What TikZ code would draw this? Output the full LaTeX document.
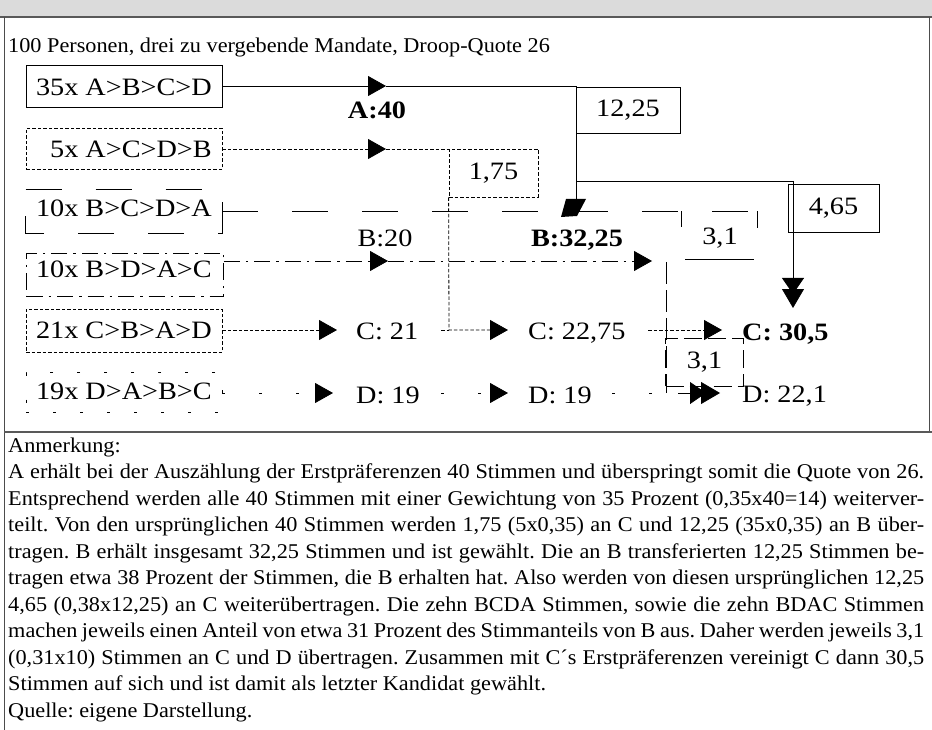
\documentclass[tikz,border=0pt]{standalone}
\usepackage{fontspec}
\setmainfont{Liberation Serif}
\newfontfamily\dfont[FakeStretch=1.13]{Liberation Serif}
\newfontfamily\nfont[FakeStretch=1.06]{Liberation Serif}
\usetikzlibrary{arrows.meta}
\begin{document}
\frenchspacing
\begin{tikzpicture}[x=1pt,y=-1pt,
  ln/.style={line width=0.8pt},
  sdash/.style={dash pattern=on 3.5pt off 2pt},
  ldash/.style={dash pattern=on 36pt off 34pt},
  ddash/.style={dash pattern=on 16pt off 6pt on 2.5pt off 6pt},
  dotl/.style={dash pattern=on 3pt off 34pt},
  dotb/.style={dash pattern=on 3pt off 24pt},
  mdash/.style={dash pattern=on 18pt off 6pt},
  pbox/.style={draw, line width=0.8pt, minimum width=196pt, inner sep=0pt},
  vbox/.style={draw, line width=0.8pt, inner sep=0pt, font=\dfont\fontsize{25}{30}\selectfont},
  ptxt/.style={font=\dfont\fontsize{25}{30}\selectfont, inner sep=0pt, anchor=base east},
  lbl/.style={font=\dfont\fontsize{25}{30}\selectfont, inner sep=0pt, anchor=base},
  lblw/.style={font=\dfont\fontsize{25}{30}\selectfont, inner sep=0pt, anchor=base west},
  arrowA/.style={-{Triangle[length=18pt,width=20pt]}},
  arrowD/.style={-{Triangle[length=16pt,width=22pt,sep=-5pt]Triangle[length=19pt,width=22pt]}},
  notetxt/.style={font=\nfont\fontsize{21}{26}\selectfont, inner sep=0pt, anchor=base west}
]
\useasboundingbox (0,0) rectangle (932,730);
% frame
\fill[gray!28] (0,0) rectangle (932,16.5);
\draw[line width=1.6pt, black!65] (0,17) -- (932,17);
\draw[line width=1pt, black!70] (4,17) -- (4,730);
\draw[line width=1pt, black!70] (929.5,17) -- (929.5,432);
\draw[line width=2pt, black!65] (4,432) -- (932,432);

\node[notetxt] (head) at (8,53) {100 Personen, drei zu vergebende Mandate, Droop-Quote 26};

% preference boxes
\node[pbox, minimum height=42pt] (b1) at (124,86) {};
\node[pbox, sdash, minimum height=41pt] (b2) at (124,149) {};
\node[pbox, draw=none, minimum height=44pt] (b3) at (124,211.5) {};
\draw[ln, ldash] (b3.north west) -- (b3.north east) -- (b3.south east) -- (b3.south west) -- cycle;
\node[pbox, ddash, minimum height=43pt, minimum width=197pt] (b4) at (125,274.5) {};
\node[pbox, sdash, minimum height=43pt] (b5) at (124,330.5) {};
\node[pbox, dotb, minimum height=40pt] (b6) at (124,392.5) {};

\node[ptxt] (t1) at (212,96) {35x A>B>C>D};
\node[ptxt] (t2) at (212,158) {5x A>C>D>B};
\node[ptxt] (t3) at (212,217) {10x B>C>D>A};
\node[ptxt] (t4) at (212,277) {10x B>D>A>C};
\node[ptxt] (t5) at (212,338) {21x C>B>A>D};
\node[ptxt] (t6) at (212,399) {19x D>A>B>C};

% transfer boxes
\node[vbox, minimum width=104pt, minimum height=46pt] (q1) at (628,110) {12,25};
\node[vbox, sdash, minimum width=89pt, minimum height=48pt] (q2) at (493.5,173) {1,75};
\node[vbox, minimum width=91pt, minimum height=48pt] (q5) at (833.5,208) {4,65};
\node[vbox, mdash, minimum width=78pt, minimum height=48pt] (q4) at (704.5,362) {3,1};
\node[lbl] (q3) at (720,245) {3,1};

% labels
\node[lbl, font=\dfont\bfseries\fontsize{25}{30}\selectfont] (la) at (377,119) {A:40};
\node[lbl] (lb1) at (385,247) {B:20};
\node[lbl, font=\dfont\bfseries\fontsize{25}{30}\selectfont] (lb2) at (577,247) {B:32,25};
\node[lblw] (lc1) at (356,339) {C: 21};
\node[lblw] (lc2) at (528,339) {C: 22,75};
\node[lblw, font=\dfont\bfseries\fontsize{25}{30}\selectfont] (lc3) at (742,340) {C: 30,5};
\node[lblw] (ld1) at (356,403) {D: 19};
\node[lblw] (ld2) at (528,403) {D: 19};
\node[lblw] (ld3) at (742,402) {D: 22,1};

% coordinates
\coordinate (a1) at (386,86);
\coordinate (j1) at (576,86);
\coordinate (bt) at (576,199);
\coordinate (j2) at (576,181);
\coordinate (j3) at (793,181);
\coordinate (c3top) at (793,308);
\coordinate (a2) at (386,149);
\coordinate (k2) at (449,149);
\coordinate (k5) at (449,330);
\coordinate (r3e) at (757,211.5);
\coordinate (a4) at (388,261);
\coordinate (a4b) at (652,261);
\coordinate (v4t) at (666,262);
\coordinate (v4b) at (666,393);
\coordinate (a5) at (337,330);
\coordinate (s5) at (441,330);
\coordinate (a5b) at (508,330);
\coordinate (s5c) at (648,330);
\coordinate (a5c) at (722,330);
\coordinate (a6) at (333,393);
\coordinate (s6) at (441,393);
\coordinate (a6b) at (508,393);
\coordinate (s6c) at (612,393);
\coordinate (s6d) at (678,393);
\coordinate (a6c) at (720,393);

% row 1
\draw[ln, arrowA] (b1.east) -- (a1);
\draw[ln] (a1) -- (j1) -- (bt);
\fill (566,199) -- (586,199) -- (577,216) -- (561,217) -- cycle;
\draw[ln] (j2) -- (j3);
\draw[ln, arrowD] (j3) -- (c3top);
% row 2
\draw[ln, sdash, arrowA] (b2.east) -- (a2);
\draw[ln, sdash] (a2) -- (k2);
\draw[ln, sdash, arrowA] (q2.south west) -- (k5) -- (a5b);
% row 3
\draw[ln, ldash] (b3.east) -- (r3e);
\draw[ln] (681,211.5) -- (681,227);
\draw[ln] (757,211.5) -- (757,228);
\draw[ln] (685,259) -- (754,259);
% row 4
\draw[ln, ddash, arrowA] (b4.east |- a4) -- (a4);
\draw[ln, ddash, arrowA] (a4) -- (a4b);
\draw[ln, dash pattern=on 22pt off 6pt] (v4t) -- (v4b);
% row 5
\draw[ln, sdash, arrowA] (b5.east |- a5) -- (a5);
\draw[ln, sdash] (s5) -- (k5);
\draw[ln, sdash, arrowA] (s5c) -- (a5c);
% row 6
\draw[ln, dotl, arrowA] (b6.east |- a6) -- (a6);
\draw[ln, dotl, arrowA] (s6) -- (a6b);
\draw[ln, dotl] (s6c) -- (v4b);
\draw[ln, arrowD] (s6d) -- (a6c);

% note
\node[notetxt] (n0) at (8,452) {Anmerkung:};
\node[notetxt] (n1) at (8,478.5) {\makebox[916pt][s]{A erhält bei der Auszählung der Erstpräferenzen 40 Stimmen und überspringt somit die Quote von 26.}};
\node[notetxt] (n2) at (8,505) {\makebox[916pt][s]{Entsprechend werden alle 40 Stimmen mit einer Gewichtung von 35 Prozent (0,35x40=14) weiterver-}};
\node[notetxt] (n3) at (8,531.5) {\makebox[916pt][s]{teilt. Von den ursprünglichen 40 Stimmen werden 1,75 (5x0,35) an C und 12,25 (35x0,35) an B über-}};
\node[notetxt] (n4) at (8,558) {\makebox[916pt][s]{tragen. B erhält insgesamt 32,25 Stimmen und ist gewählt. Die an B transferierten 12,25 Stimmen be-}};
\node[notetxt] (n5) at (8,584.5) {\makebox[916pt][s]{tragen etwa 38 Prozent der Stimmen, die B erhalten hat. Also werden von diesen ursprünglichen 12,25}};
\node[notetxt] (n6) at (8,611) {\makebox[916pt][s]{4,65 (0,38x12,25) an C weiterübertragen. Die zehn BCDA Stimmen, sowie die zehn BDAC Stimmen}};
\node[notetxt] (n7) at (8,637.5) {\makebox[916pt][s]{machen jeweils einen Anteil von etwa 31 Prozent des Stimmanteils von B aus. Daher werden jeweils 3,1}};
\node[notetxt] (n8) at (8,664) {\makebox[916pt][s]{(0,31x10) Stimmen an C und D übertragen. Zusammen mit C´s Erstpräferenzen vereinigt C dann 30,5}};
\node[notetxt] (n9) at (8,690.5) {Stimmen auf sich und ist damit als letzter Kandidat gewählt.};
\node[notetxt] (n10) at (8,717) {Quelle: eigene Darstellung.};
\end{tikzpicture}
\end{document}
